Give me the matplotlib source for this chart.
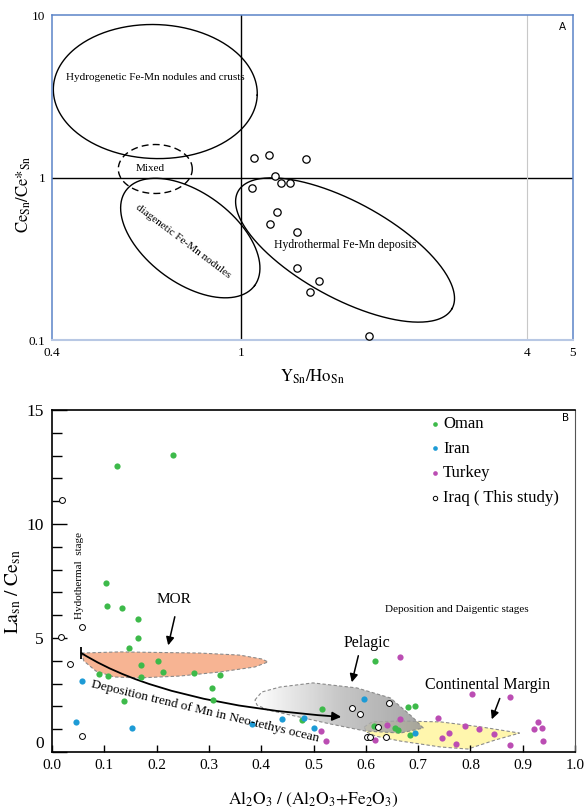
import matplotlib
matplotlib.use("Agg")
import matplotlib.pyplot as plt
import numpy as np
from matplotlib.patches import Polygon, FancyArrowPatch
from matplotlib.path import Path
from matplotlib.ticker import NullLocator, MultipleLocator

plt.rcParams['font.family'] = ['Liberation Serif', 'DejaVu Serif']
plt.rcParams['mathtext.fontset'] = 'stix'

# ---------------- datos panel A (Y/Ho vs Ce/Ce*) ----------------
iraq_yho = [1.067, 1.148, 1.373, 1.181, 1.211, 1.271, 1.056, 1.193,
            1.153, 1.315, 1.315, 1.463, 1.394, 1.856]
iraq_ce = [1.318, 1.375, 1.300, 1.020, 0.925, 0.925, 0.862, 0.613,
           0.517, 0.462, 0.277, 0.231, 0.197, 0.106]

# campos: centro (x, y) en datos, semiejes en px, angulo
hydrogenetic = (0.660, 3.38, 102, 67, -2)
mixed = (0.660, 1.128, 37, 24.5, 0)
diagenetic = (0.782, 0.424, 80, 45, -36.5)
hydrothermal = (1.656, 0.358, 122, 48, -28.7)

# ---------------- datos panel B (Al/(Al+Fe) vs La/Ce) ----------------
oman_x = [0.125, 0.232, 0.104, 0.105, 0.133, 0.165, 0.165, 0.148, 0.203,
          0.171, 0.090, 0.107, 0.213, 0.271, 0.322, 0.171, 0.305, 0.307,
          0.138, 0.516, 0.478, 0.617, 0.680, 0.695, 0.616, 0.655, 0.662,
          0.685]
oman_y = [12.54, 13.03, 7.41, 6.40, 6.32, 5.83, 5.00, 4.56, 3.99,
          3.82, 3.42, 3.33, 3.51, 3.46, 3.38, 3.29, 2.81, 2.28,
          2.24, 1.88, 1.40, 3.99, 1.97, 2.02, 1.14, 1.05, 0.97,
          0.75]

iran_x = [0.058, 0.046, 0.153, 0.382, 0.440, 0.482, 0.501, 0.597, 0.695]
iran_y = [3.11, 1.32, 1.05, 1.23, 1.45, 1.49, 1.05, 2.32, 0.83]

turkey_x = [0.666, 0.804, 0.875, 0.739, 0.666, 0.929, 0.789, 0.816, 0.921,
            0.937, 0.760, 0.845, 0.641, 0.746, 0.772, 0.875, 0.938, 0.618,
            0.514, 0.523]
turkey_y = [4.17, 2.54, 2.41, 1.49, 1.45, 1.32, 1.14, 1.00, 1.00,
            1.05, 0.83, 0.79, 1.18, 0.61, 0.35, 0.31, 0.48, 0.53,
            0.92, 0.48]

iraq_x = [0.019, 0.017, 0.058, 0.035, 0.058, 0.574, 0.588, 0.645, 0.624,
          0.603, 0.608, 0.639]
iraq_y = [11.05, 5.04, 5.48, 3.86, 0.70, 1.93, 1.67, 2.15, 1.10,
          0.66, 0.66, 0.66]

mor_x = [0.056, 0.129, 0.282, 0.359, 0.401, 0.413, 0.388, 0.321, 0.244,
         0.167, 0.119, 0.084, 0.061]
mor_y = [4.34, 4.39, 4.34, 4.25, 4.08, 3.95, 3.73, 3.51, 3.33,
         3.25, 3.29, 3.55, 3.99]

pel_x = [0.388, 0.401, 0.436, 0.499, 0.583, 0.647, 0.689, 0.710, 0.666,
         0.599, 0.532, 0.464, 0.413, 0.392]
pel_y = [2.28, 2.63, 2.85, 3.03, 2.81, 2.37, 1.54, 1.05, 0.83,
         0.92, 1.23, 1.58, 1.84, 2.06]

cm_x = [0.597, 0.612, 0.666, 0.743, 0.820, 0.894, 0.848, 0.795, 0.743,
        0.666, 0.618, 0.601]
cm_y = [1.10, 1.32, 1.36, 1.32, 1.10, 0.83, 0.53, 0.13, 0.22,
        0.48, 0.70, 0.88]

# tendencia de deposito (bezier cuadratica: inicio, control, fin)
trend_x = [0.056, 0.215, 0.553]
trend_y = [4.34, 2.06, 1.54]

green = '#3dba4a'
blue = '#1d9bd6'
magenta = '#bb4db3'


def draw_ellipse(ax, params, **kw):
    cx, cy, a, b, ang = params
    t = np.linspace(0, 2 * np.pi, 300)
    c0 = ax.transData.transform((cx, cy))
    th = np.deg2rad(ang)
    u = a * np.cos(t)
    v = b * np.sin(t)
    px = c0[0] + u * np.cos(th) - v * np.sin(th)
    py = c0[1] + u * np.sin(th) + v * np.cos(th)
    xy = ax.transData.inverted().transform(np.column_stack([px, py]))
    ax.plot(xy[:, 0], xy[:, 1], **kw)


fig = plt.figure(figsize=(5.88, 8.11), dpi=100)

# ================= Panel A =================
ax1 = fig.add_axes([52 / 588, 1 - 340 / 811, 521 / 588, 325 / 811])
ax1.set_xscale('log')
ax1.set_yscale('log')
ax1.set_xlim(0.4, 5)
ax1.set_ylim(0.1, 10)

ax1.axvline(1, color='black', lw=1)
ax1.axhline(1, color='black', lw=1)
ax1.axvline(4, color='#c8c8c8', lw=0.8)

draw_ellipse(ax1, hydrogenetic, color='black', lw=1)
draw_ellipse(ax1, mixed, color='black', lw=1, ls=(0, (5, 3)))
draw_ellipse(ax1, diagenetic, color='black', lw=1)
draw_ellipse(ax1, hydrothermal, color='black', lw=1)

ax1.scatter(iraq_yho, iraq_ce, s=28, facecolors='white', edgecolors='black',
            linewidths=0.9, zorder=5)

ax1.text(0.660, 4.10, 'Hydrogenetic Fe-Mn nodules and crusts', fontsize=8,
         ha='center', va='center')
ax1.text(0.644, 1.14, 'Mixed', fontsize=8, ha='center', va='center')
ax1.text(0.756, 0.407, 'diagenetic Fe-Mn nodules', fontsize=8, ha='center',
         va='center', rotation=-37)
ax1.text(1.66, 0.385, 'Hydrothermal Fe-Mn deposits', fontsize=8.5,
         ha='center', va='center')
ax1.text(0.979, 0.963, 'A', transform=ax1.transAxes, fontsize=7.5,
         family='DejaVu Sans', ha='center', va='center')

ax1.set_xticks([0.4, 1, 4, 5])
ax1.set_xticklabels(['0.4', '1', '4', '5'])
ax1.set_yticks([0.1, 1, 10])
ax1.set_yticklabels(['0.1', '1', '10'])
ax1.xaxis.set_minor_locator(NullLocator())
ax1.yaxis.set_minor_locator(NullLocator())
ax1.tick_params(length=0, labelsize=9.5, pad=5)

for side in ['left', 'top', 'right']:
    ax1.spines[side].set_color('#5b84c8')
    ax1.spines[side].set_linewidth(1.1)
ax1.spines['bottom'].set_color('#b8c8e4')
ax1.spines['bottom'].set_linewidth(1.5)

ax1.set_xlabel(r'$\mathrm{Y_{Sn}/Ho_{Sn}}$', fontsize=12)
ax1.xaxis.set_label_coords(0.5, -0.085)
ax1.set_ylabel(r'$\mathrm{Ce_{Sn}/Ce{*}_{Sn}}$', fontsize=12)
ax1.yaxis.set_label_coords(-0.037, 0.45)

# ================= Panel B =================
ax2 = fig.add_axes([52 / 588, 1 - 752 / 811, 523 / 588, 342 / 811])
ax2.set_xlim(0, 1)
ax2.set_ylim(0, 15)

cm_poly = Polygon(np.column_stack([cm_x, cm_y]), closed=True,
                  facecolor='#fff6ad', edgecolor='#8a8a8a', lw=0.8,
                  ls=(0, (3, 2)), zorder=1)
ax2.add_patch(cm_poly)

mor_poly = Polygon(np.column_stack([mor_x, mor_y]), closed=True,
                   facecolor='#f7b493', edgecolor='#8a8a8a', lw=0.8,
                   ls=(0, (3, 2)), zorder=1)
ax2.add_patch(mor_poly)

pel_poly = Polygon(np.column_stack([pel_x, pel_y]), closed=True,
                   facecolor='none', edgecolor='#8a8a8a', lw=0.8,
                   ls=(0, (3, 2)), zorder=2)
ax2.add_patch(pel_poly)
ramp = np.linspace(0, 1, 256).reshape(1, -1)
grad = ax2.imshow(ramp, cmap=matplotlib.colors.LinearSegmentedColormap.from_list(
    'pel', ['#ffffff', '#bdbdbd', '#969696']),
    extent=[min(pel_x), max(pel_x), min(pel_y), max(pel_y)],
    aspect='auto', alpha=0.85, zorder=1.5, origin='lower')
grad.set_clip_path(pel_poly)

# trend arrow
trend_path = Path(np.column_stack([trend_x, trend_y]),
                  [Path.MOVETO, Path.CURVE3, Path.CURVE3])
arrow = FancyArrowPatch(path=trend_path, arrowstyle='-|>', mutation_scale=13,
                        color='black', lw=1.3, zorder=4)
ax2.add_patch(arrow)
ax2.plot(trend_x[0], trend_y[0], marker='|', ms=8, mew=1.3, color='black',
         zorder=4)
ax2.text(0.292, 1.78, 'Deposition trend of Mn in Neo-tethys ocean',
         fontsize=9.5, rotation=-13.5, ha='center', va='center', zorder=6)

ax2.scatter(oman_x, oman_y, s=20, color=green, label='Oman', zorder=5,
            linewidths=0)
ax2.scatter(iran_x, iran_y, s=20, color=blue, label='Iran', zorder=5,
            linewidths=0)
ax2.scatter(turkey_x, turkey_y, s=20, color=magenta, label='Turkey', zorder=5,
            linewidths=0)
ax2.scatter(iraq_x, iraq_y, s=18, facecolors='white', edgecolors='black',
            linewidths=0.7, label='Iraq ( This study)', zorder=5)

# labels and arrows
ax2.text(0.234, 6.67, 'MOR', fontsize=11, ha='center', va='center')
ax2.annotate('', xy=(0.221, 4.56), xytext=(0.236, 6.05),
             arrowprops=dict(arrowstyle='-|>', color='black', lw=1.1,
                             mutation_scale=12))
ax2.text(0.603, 4.78, 'Pelagic', fontsize=11.5, ha='center', va='center')
ax2.annotate('', xy=(0.572, 2.94), xytext=(0.587, 4.34),
             arrowprops=dict(arrowstyle='-|>', color='black', lw=1.1,
                             mutation_scale=12))
ax2.text(0.833, 2.94, 'Continental Margin', fontsize=11.5, ha='center',
         va='center')
ax2.annotate('', xy=(0.839, 1.32), xytext=(0.858, 2.46),
             arrowprops=dict(arrowstyle='-|>', color='black', lw=1.1,
                             mutation_scale=12))
ax2.text(0.774, 6.27, 'Deposition and Daigentic stages', fontsize=8,
         ha='center', va='center')
ax2.text(0.052, 7.72, 'Hydothermal  stage', fontsize=8, rotation=90,
         ha='center', va='center')
ax2.text(0.981, 0.977, 'B', transform=ax2.transAxes, fontsize=7.5,
         family='DejaVu Sans', ha='center', va='center')

ax2.legend(loc='upper left', bbox_to_anchor=(0.697, 1.012), frameon=False,
           fontsize=12, handlelength=1.0, handletextpad=0.0,
           labelspacing=0.52, borderaxespad=0.2, markerscale=0.75,
           scatterpoints=1)

# ejes
ax2.set_xticks(np.round(np.arange(0, 1.01, 0.1), 1))
ax2.set_xticklabels([f'{v:.1f}' for v in np.arange(0, 1.01, 0.1)])
ax2.set_xticks([0.5], minor=True)
ax2.set_yticks([0, 5, 10, 15])
ax2.yaxis.set_minor_locator(MultipleLocator(1))
ax2.tick_params(axis='x', which='major', direction='in', length=5, width=1,
                labelsize=11, pad=5)
ax2.tick_params(axis='x', which='minor', direction='in', length=12, width=1)
ax2.tick_params(axis='y', which='major', direction='in', length=11, width=1,
                labelsize=12.5, pad=6)
ax2.tick_params(axis='y', which='minor', direction='in', length=7, width=1)
ax2.tick_params(top=False, right=False, which='both')
ax2.get_yticklabels()[0].set_va('bottom')
for side in ['left', 'top', 'bottom']:
    ax2.spines[side].set_linewidth(1.2)
ax2.spines['right'].set_color('#555555')

ax2.set_xlabel(r'$\mathrm{Al_2O_3\ /\ (Al_2O_3{+}Fe_2O_3)}$', fontsize=12.5)
ax2.xaxis.set_label_coords(0.5, -0.11)
ax2.set_ylabel(r'$\mathrm{La_{sn}\ /\ Ce_{sn}}$', fontsize=14)
ax2.yaxis.set_label_coords(-0.055, 0.47)

fig.savefig('out.png', dpi=100)
